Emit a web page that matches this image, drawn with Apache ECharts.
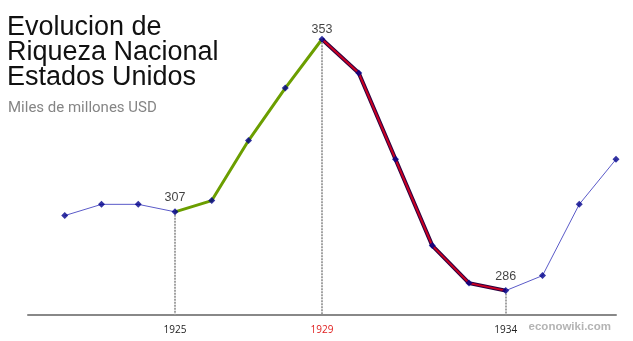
<!DOCTYPE html>
<html><head><meta charset="utf-8">
<script src="https://cdn.jsdelivr.net/npm/echarts@6/dist/echarts.min.js"></script>
<style>html,body{margin:0;padding:0;background:#fff}#c{width:633px;height:341px}</style>
</head><body><div id="c"></div>
<script>
const years = [1922,1923,1924,1925,1926,1927,1928,1929,1930,1931,1932,1933,1934,1935,1936,1937];
const wealth = [306,309,309,307,310,326,340,353,344,321,298,288,286,290,309,321];
const riseYears = [1925,1926,1927,1928,1929];
const fallYears = [1929,1930,1931,1932,1933,1934];
const highlightYears = [1925,1929,1934];
const titleLines = ['Evolucion de','Riqueza Nacional','Estados Unidos'];
const subtitle = 'Miles de millones USD';
const yMin = 279.5;

const pairs = years.map((y,i)=>[y,wealth[i]]);
const pick = ys => ys.map(y=>[y, wealth[years.indexOf(y)]]);
const scatterData = pairs.map(p=>({value:p, label:{distance: p[0]===1929 ? 0 : 4}}));

const chart = echarts.init(document.getElementById('c'));
chart.setOption({
  animation:false,
  title:[
    {text:titleLines.join('\n'),left:7,top:15,padding:0,textStyle:{fontFamily:'Liberation Sans',fontSize:27,fontWeight:'normal',color:'#111',lineHeight:25}},
    {text:subtitle,left:8,top:101,padding:0,textStyle:{fontFamily:'Roboto',fontSize:15,fontWeight:'normal',color:'#858585'}},
    {text:'econowiki.com',right:22,top:321,padding:0,textStyle:{fontFamily:'Liberation Sans',fontSize:11.5,fontWeight:'bold',color:'#b4b4b4'}}
  ],
  grid:{left:28,right:17,top:13,bottom:26},
  xAxis:{type:'value',min:1921,max:1937,
    axisLine:{show:true,lineStyle:{color:'#888',width:2}},
    axisTick:{show:false},
    splitLine:{show:false},
    axisLabel:{customValues:highlightYears,fontFamily:'Open Sans',fontSize:10,margin:10,
      formatter:v=>v===1929?'{r|'+v+'}':'{k|'+v+'}',
      rich:{r:{color:'#e02020',fontFamily:'Open Sans',fontSize:10},k:{color:'#222',fontFamily:'Open Sans',fontSize:10}}}
  },
  yAxis:{type:'value',min:yMin,max:360,show:false,splitLine:{show:false}},
  series:[
    {type:'line',data:pairs,symbol:'none',lineStyle:{color:'#5a5ac8',width:1},z:2,
      markLine:{silent:true,symbol:'none',label:{show:false},
        lineStyle:{color:'#999',type:[2,1],width:1.8},
        data:highlightYears.map(y=>[{coord:[y,wealth[years.indexOf(y)]]},{coord:[y,yMin]}])}},
    {type:'line',data:pick(riseYears),symbol:'none',lineStyle:{color:'#6b9e00',width:3},z:3},
    {type:'line',data:pick(fallYears),symbol:'none',lineStyle:{color:'#2a0040',width:4},z:3},
    {type:'line',data:pick(fallYears),symbol:'none',lineStyle:{color:'#cc0022',width:2},z:4},
    {type:'scatter',data:scatterData,symbol:'diamond',symbolSize:7,itemStyle:{color:'#00008b'},z:5,
      label:{show:true,position:'top',distance:4,fontFamily:'Liberation Sans',fontSize:12.5,color:'#111',
        formatter:p=>highlightYears.includes(p.value[0])?String(p.value[1]):''}}
  ]
});
</script></body></html>
